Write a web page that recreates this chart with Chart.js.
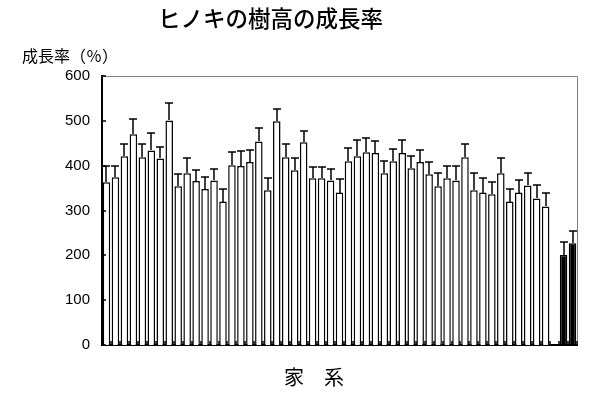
<!DOCTYPE html>
<html>
<head>
<meta charset="utf-8">
<script src="https://cdn.jsdelivr.net/npm/chart.js@4.4.1/dist/chart.umd.min.js"></script>
<style>
  html, body { margin: 0; padding: 0; background: #fff; }
  #wrap { width: 599px; height: 393px; position: relative; }
</style>
</head>
<body>
<div id="wrap"><canvas id="growth"></canvas></div>
<script>
// ── Data ────────────────────────────────────────────────────────

const FAMILIES = [
  "1", "2", "3", "4", "5", "6", "7", "8", "9", "10",
  "11", "12", "13", "14", "15", "16", "17", "18", "19", "20",
  "21", "22", "23", "24", "25", "26", "27", "28", "29", "30",
  "31", "32", "33", "34", "35", "36", "37", "38", "39", "40",
  "41", "42", "43", "44", "45", "46", "47", "48", "49", "50",
  "", "対照1", "対照2",
];

const GROWTH = [
  363, 374, 421, 470, 419, 434, 416, 501, 354, 383,
  366, 348, 367, 320, 401, 399, 408, 454, 345, 499,
  419, 390, 452, 372, 372, 367, 340, 410, 421, 430,
  428, 383, 410, 428, 394, 408, 381, 354, 372, 367,
  419, 345, 340, 336, 383, 320, 340, 356, 327, 309,
  null, 201, 227,
];

const GROWTH_ERR = [
  36, 26, 27, 35, 29, 38, 26, 39, 28, 35,
  25, 26, 26, 29, 29, 34, 28, 29, 28, 28,
  29, 26, 26, 26, 26, 26, 31, 29, 36, 31,
  26, 27, 27, 29, 27, 26, 27, 29, 27, 32,
  29, 38, 32, 27, 33, 27, 27, 27, 29, 29,
  null, 29, 27,
];

const Y_TICKS = [0, 100, 200, 300, 400, 500, 600];

const TITLE   = "ヒノキの樹高の成長率";
const Y_LABEL = "成長率（％）";
const X_LABEL = "家　系";

const CONTROLS = ["対照1", "対照2"];

// ── Plugins ─────────────────────────────────────────────────────

const errorBars = {
  id: "errorBars",
  afterDatasetsDraw(chart) {
    const meta = chart.getDatasetMeta(0);
    const y = chart.scales.y;
    const ctx = chart.ctx;
    ctx.save();
    ctx.strokeStyle = "#000";
    ctx.lineWidth = 1.5;
    meta.data.forEach((bar, i) => {
      if (GROWTH[i] == null || GROWTH_ERR[i] == null) return;
      const x = Math.round(bar.x);
      const yTop = Math.round(y.getPixelForValue(GROWTH[i] + GROWTH_ERR[i]));
      const yBar = Math.round(bar.y);
      ctx.beginPath();
      ctx.moveTo(x, yBar);
      ctx.lineTo(x, yTop);
      ctx.moveTo(x - 4, yTop);
      ctx.lineTo(x + 4, yTop);
      ctx.stroke();
    });
    ctx.restore();
  },
};

const frameAndText = {
  id: "frameAndText",
  afterDraw(chart) {
    const { ctx, chartArea: a, scales } = chart;
    ctx.save();

    // gray frame on top / right
    ctx.strokeStyle = "#808080";
    ctx.lineWidth = 1;
    ctx.beginPath();
    ctx.moveTo(a.left, a.top + 0.5);
    ctx.lineTo(a.right + 0.5, a.top + 0.5);
    ctx.lineTo(a.right + 0.5, a.bottom);
    ctx.stroke();

    // inward tick marks
    ctx.strokeStyle = "#000";
    ctx.lineWidth = 1.5;
    ctx.beginPath();
    Y_TICKS.forEach(v => {
      const py = Math.round(scales.y.getPixelForValue(v));
      ctx.moveTo(a.left, py);
      ctx.lineTo(a.left + 4, py);
    });
    const pitch = scales.x.getPixelForValue(1) - scales.x.getPixelForValue(0);
    FAMILIES.forEach((_, i) => {
      const px = Math.round(scales.x.getPixelForValue(i) + pitch / 2);
      ctx.moveTo(px, a.bottom);
      ctx.lineTo(px, a.bottom - 4);
    });
    ctx.stroke();

    ctx.fillStyle = "#000";
    ctx.textBaseline = "middle";

    ctx.font = "500 22.5px 'Noto Sans CJK JP'";
    ctx.textAlign = "left";
    ctx.fillText(TITLE, 158, 18);

    ctx.font = "16px 'Noto Sans CJK JP'";
    ctx.fillText(Y_LABEL, 22, 56);

    ctx.font = "20px 'Noto Sans CJK JP'";
    ctx.textAlign = "center";
    ctx.fillText(X_LABEL, 314, 377);

    ctx.restore();
  },
};

// ── Chart ───────────────────────────────────────────────────────

new Chart(document.getElementById("growth"), {
  type: "bar",
  data: {
    labels: FAMILIES,
    datasets: [{
      label: "成長率",
      data: GROWTH,
      backgroundColor: (c) => CONTROLS.includes(FAMILIES[c.dataIndex]) ? "#000" : "#fff",
      borderColor: "#000",
      borderWidth: 1.5,
      borderSkipped: "bottom",
      categoryPercentage: 1,
      barPercentage: 0.84,
    }],
  },
  options: {
    responsive: true,
    maintainAspectRatio: false,
    animation: false,
    layout: { padding: { left: 0, top: 76, right: 22, bottom: 48 } },
    plugins: {
      legend: { display: false },
      tooltip: { enabled: false },
      title: { display: false },
    },
    scales: {
      x: {
        grid: { display: false },
        ticks: { display: false },
        border: { display: true, color: "#000", width: 2 },
        afterFit: (s) => { s.height = 0; },
      },
      y: {
        min: 0,
        max: 600,
        afterBuildTicks: (s) => { s.ticks = Y_TICKS.map(v => ({ value: v })); },
        grid: { display: false, drawTicks: false },
        ticks: {
          color: "#000",
          padding: 12,
          font: { family: "Liberation Sans", size: 15 },
        },
        border: { display: true, color: "#000", width: 2 },
        afterFit: (s) => { s.width = 102; },
      },
    },
  },
  plugins: [errorBars, frameAndText],
});
</script>
</body>
</html>
